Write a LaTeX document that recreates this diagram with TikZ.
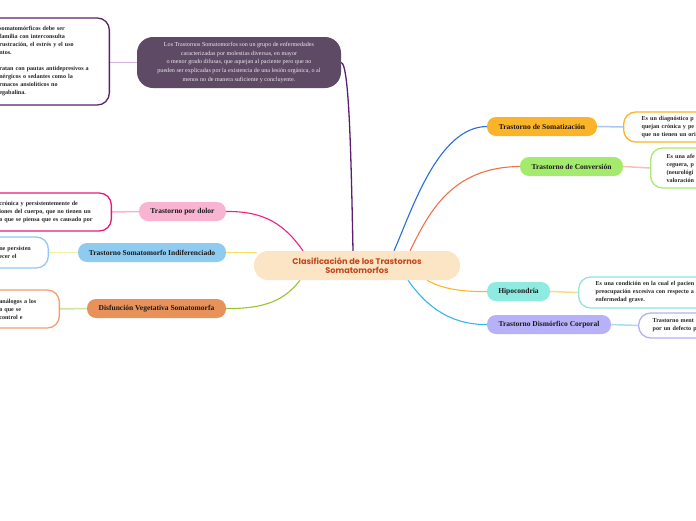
\documentclass[tikz,border=0pt]{standalone}
\usepackage{fontspec}
\setmainfont{Liberation Serif}
\newfontfamily\rootfont{Poppins}
\usetikzlibrary{positioning,backgrounds}

\definecolor{introfill}{HTML}{5E4A64}
\definecolor{rootfill}{HTML}{FBE5C4}
\definecolor{roottext}{HTML}{C3461E}

\tikzset{
  topic/.style={rounded corners=9pt,minimum height=19pt,inner sep=0pt,
    font=\bfseries\fontsize{7.5}{8}\selectfont,text=black!90},
  info/.style={draw,fill=white,rounded corners=12pt,line width=1.3pt,inner ysep=0pt,
    align=left,font=\bfseries\fontsize{6.1}{8}\selectfont,text=black!85},
  link/.style={line width=1.1pt},
  twig/.style={line width=1.5pt}
}

\begin{document}
\begin{tikzpicture}[x=1pt,y=-1pt]
  \useasboundingbox (0,0) rectangle (696,520);
  \clip (0,0) rectangle (696,520);

  % central topic and its description
  \node[fill=rootfill,rounded corners=14pt,minimum width=206pt,minimum height=29pt,inner sep=0pt,
    align=center,text=roottext,font=\rootfont\bfseries\fontsize{8.2}{9.5}\selectfont] (root) at (357,265.5)
    {Clasificación de los Trastornos\\Somatomorfos};
  \node[fill=introfill,rounded corners=16pt,minimum width=204pt,minimum height=51pt,inner sep=0pt,
    align=center,text=white!88!introfill,font=\fontsize{6.1}{8.6}\selectfont] (intro) at (239,62.5)
    {Los Trastornos Somatomorfos son un grupo de enfermedades\\
     caracterizadas por molestias diversas, en mayor\\
     o menor grado difusas, que aquejan al paciente pero que no\\
     pueden ser explicadas por la existencia de una lesión orgánica, o al\\
     menos no de manera suficiente y concluyente.};
  \node[info,draw={rgb,255:red,92;green,31;blue,110},anchor=east,inner xsep=14pt,text width=96pt,minimum height=87pt]
    (introD) at (110,61.5)
    {somatomórficos debe ser\\ familia con interconsulta\\ rustración, el estrés y el uso\\ ntos.\\[8pt]
     ratan con pautas antidepresivos a\\ nérgicos o sedantes como la\\ rmacos ansiolíticos no\\ egabalina.};

  % left branches
  \node[topic,fill={rgb,255:red,249;green,180;blue,210},minimum width=87pt] (dolor) at (182.5,211.5) {Trastorno por dolor};
  \node[topic,fill={rgb,255:red,142;green,203;blue,240},minimum width=148pt] (indif) at (152,252.5) {Trastorno Somatomorfo Indiferenciado};
  \node[topic,fill={rgb,255:red,232;green,146;blue,90},minimum width=139pt] (disf) at (156.5,308.5) {Disfunción Vegetativa Somatomorfa};
  \node[info,draw={rgb,255:red,232;green,25;blue,122},anchor=east,inner xsep=14pt,text width=98pt,minimum height=38pt]
    (dolorD) at (112,212) {crónica y persistentemente de\\ iones del cuerpo, que no tienen un\\ o que se piensa que es causado por};
  \node[info,draw={rgb,255:red,144;green,202;blue,240},anchor=east,inner xsep=14pt,text width=35pt,minimum height=31pt]
    (indifD) at (49,252.5) {ne persisten\\ ecer el};
  \node[info,draw={rgb,255:red,240;green,160;blue,112},anchor=east,inner xsep=14pt,text width=46pt,minimum height=38pt]
    (disfD) at (60,309) {análogos a los\\ o que se\\ control e};

  % right branches
  \node[topic,fill={rgb,255:red,251;green,180;blue,42},minimum width=110pt] (somat) at (542,126.5) {Trastorno de Somatización};
  \node[topic,fill={rgb,255:red,164;green,234;blue,108},minimum width=103pt] (conv) at (571.5,166.5) {Trastorno de Conversión};
  \node[topic,fill={rgb,255:red,143;green,235;blue,226},minimum width=63pt] (hipo) at (518.5,291.5) {Hipocondría};
  \node[topic,fill={rgb,255:red,183;green,177;blue,249},minimum width=124pt] (dism) at (549,324.5) {Trastorno Dismórfico Corporal};
  \node[info,draw={rgb,255:red,249;green,180;blue,40},anchor=west,inner xsep=18pt,text width=100pt,minimum height=30pt]
    (somatD) at (623,127) {Es un diagnóstico p\\ quejan crónica y pe\\ que no tienen un ori};
  \node[info,draw={rgb,255:red,168;green,235;blue,112},anchor=west,inner xsep=16pt,text width=60pt,minimum height=40pt]
    (convD) at (650,168) {Es una afe\\ ceguera, p\\ (neurológi\\ valoración};
  \node[info,draw={rgb,255:red,142;green,230;blue,222},anchor=west,inner xsep=17pt,text width=130pt,minimum height=31pt]
    (hipoD) at (578,292.5) {Es una condición en la cual el pacien\\ preocupación excesiva con respecto a\\ enfermedad grave.};
  \node[info,draw={rgb,255:red,181;green,175;blue,247},anchor=west,inner xsep=14pt,text width=80pt,minimum height=25pt]
    (dismD) at (638,325.5) {Trastorno ment\\ por un defecto p};

  \begin{scope}[on background layer]
    % main connectors
    \draw[link,line width=1.3pt,color={rgb,255:red,91;green,30;blue,115}] (intro.east) .. controls (349,64) and (351,150) .. ([xshift=-4]root.north);
    \draw[link,color={rgb,255:red,40;green,110;blue,220}] ([xshift=37]root.north) .. controls (412,210) and (438,127) .. (somat.west);
    \draw[link,color={rgb,255:red,240;green,112;blue,72}] ([xshift=53]root.north) .. controls (428,215) and (450,167) .. (conv.west);
    \draw[link,color={rgb,255:red,240;green,30;blue,130}] ([xshift=-54]root.north) .. controls (285,225) and (265,211) .. (dolor.east);
    \draw[link,color={rgb,255:red,245;green,225;blue,100}] ([xshift=3,yshift=-2]root.north west) -- (indif.east);
    \draw[link,color={rgb,255:red,150;green,196;blue,50}] ([xshift=-57]root.south) .. controls (285,300) and (265,309) .. (disf.east);
    \draw[link,color={rgb,255:red,249;green,185;blue,40}] ([xshift=70]root.south) .. controls (440,288) and (460,292) .. (hipo.west);
    \draw[link,color={rgb,255:red,58;green,181;blue,232}] ([xshift=51]root.south) .. controls (422,300) and (445,325) .. (dism.west);
    % detail connectors
    \draw[twig,color={rgb,255:red,212;green,179;blue,224}] (introD.east |- intro.west) -- (intro.west);
    \draw[twig,color={rgb,255:red,245;green,179;blue,211}] (dolorD.east) -- (dolor.west);
    \draw[twig,color={rgb,255:red,247;green,239;blue,160}] (indifD.east) -- (indif.west);
    \draw[twig,color={rgb,255:red,200;green,230;blue,160}] (disfD.east) -- (disf.west);
    \draw[twig,color={rgb,255:red,168;green,200;blue,240}] (somat.east) -- (somatD.west);
    \draw[twig,color={rgb,255:red,248;green,192;blue,176}] (conv.east) -- (convD.west);
    \draw[twig,color={rgb,255:red,249;green,220;blue,138}] (hipo.east) -- (hipoD.west);
    \draw[twig,color={rgb,255:red,168;green,220;blue,240}] (dism.east) -- (dismD.west);
  \end{scope}
\end{tikzpicture}
\end{document}
